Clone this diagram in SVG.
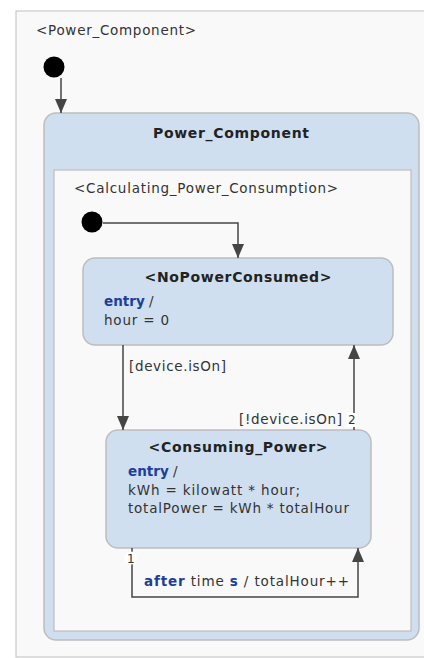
<svg xmlns="http://www.w3.org/2000/svg" width="424" height="658" viewBox="0 0 424 658">
<style>
text{font-family:"DejaVu Sans","Noto Sans",sans-serif;fill:#333;font-size:13.5px}
.t{font-weight:bold;font-size:14px;fill:#222}
.k{fill:#1d3e9a;font-weight:bold}
.st{fill:#cfdff0;stroke:#bdbdbd;stroke-width:1.5}
.fr{fill:#f9f9f9;stroke:#c8c8c8;stroke-width:1.2}
.ln{fill:none;stroke:#454545;stroke-width:1.5}
</style>
<defs>
<marker id="ah2" viewBox="0 0 14 12" refX="14" refY="6" markerWidth="14" markerHeight="12" markerUnits="userSpaceOnUse" orient="auto">
<path d="M0,0 L14,6 L0,12 z" fill="#454545"/>
</marker>
</defs>
<g id="frame">
<rect class="fr" x="16" y="11" width="420" height="646"/>
<text x="36" y="35" textLength="160" lengthAdjust="spacing">&lt;Power_Component&gt;</text>
</g>
<g id="init1"><circle cx="54" cy="67" r="10.5" fill="#000"/></g>
<g id="Power_Component">
<rect class="st" x="44" y="113" width="375" height="527" rx="12"/>
<text class="t" x="231" y="138" text-anchor="middle" textLength="156" lengthAdjust="spacing">Power_Component</text>
</g>
<g id="Calculating_Power_Consumption">
<rect class="fr" x="54" y="170" width="357" height="461" style="stroke:#bdbdbd"/>
<text x="74" y="193" textLength="264" lengthAdjust="spacing">&lt;Calculating_Power_Consumption&gt;</text>
</g>
<g id="init2"><circle cx="92" cy="222" r="10.5" fill="#000"/></g>
<g id="NoPowerConsumed">
<rect class="st" x="83" y="258" width="310" height="87" rx="12"/>
<text class="t" x="238" y="282" text-anchor="middle" textLength="187" lengthAdjust="spacing">&lt;NoPowerConsumed&gt;</text>
<text x="104" y="306"><tspan class="k">entry</tspan> /</text>
<text x="104" y="325" textLength="65" lengthAdjust="spacing">hour = 0</text>
</g>
<g id="Consuming_Power">
<rect class="st" x="106" y="430" width="265" height="118" rx="12"/>
<text class="t" x="238" y="452" text-anchor="middle" textLength="179" lengthAdjust="spacing">&lt;Consuming_Power&gt;</text>
<text x="128" y="476"><tspan class="k">entry</tspan> /</text>
<text x="128" y="495" textLength="172" lengthAdjust="spacing">kWh = kilowatt * hour;</text>
<text x="128" y="513" textLength="221" lengthAdjust="spacing">totalPower = kWh * totalHour</text>
</g>
<g id="connectors">
<path class="ln" d="M61,78 V113" marker-end="url(#ah2)"/>
<path class="ln" d="M103,223 H238 V258" marker-end="url(#ah2)"/>
<path class="ln" d="M123,345 V430" marker-end="url(#ah2)"/>
<text x="129" y="371" textLength="97" lengthAdjust="spacing">[device.isOn]</text>
<path class="ln" d="M354,430 V345" marker-end="url(#ah2)"/>
<text x="239" y="424" textLength="103" lengthAdjust="spacing">[!device.isOn]</text>
<rect x="347" y="413" width="9" height="14" fill="#fff"/>
<text x="348" y="424" style="font-size:12px">2</text>
<path class="ln" d="M132,548 V597 H358 V548" marker-end="url(#ah2)"/>
<circle cx="131" cy="558" r="6.5" fill="#fff"/>
<text x="127" y="563" style="font-size:12px">1</text>
<text x="144" y="586" textLength="205" lengthAdjust="spacing"><tspan class="k">after</tspan> time <tspan class="k">s</tspan> / totalHour++</text>
</g>
</svg>
